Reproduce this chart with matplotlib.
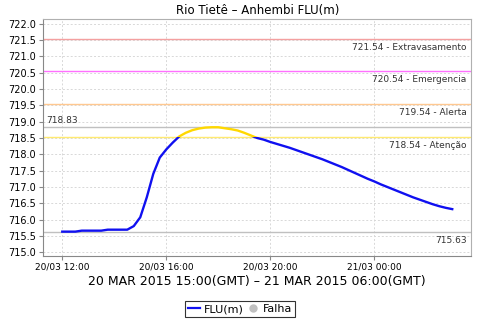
import matplotlib
matplotlib.use("Agg")
import matplotlib.pyplot as plt
import matplotlib.dates as mdates
from matplotlib.patches import Rectangle
from matplotlib.lines import Line2D
import pandas as pd

# 15-minute readings, local time (GMT-3)
times = pd.date_range("2015-03-20 12:00", "2015-03-21 03:00", freq="15min")
flu = [715.63, 715.63, 715.63, 715.66, 715.66, 715.66, 715.66, 715.69, 715.69, 715.69,
       715.69, 715.80, 716.07, 716.68, 717.40, 717.90, 718.15, 718.36, 718.55, 718.66,
       718.74, 718.79, 718.82, 718.83, 718.83, 718.80, 718.77, 718.73, 718.66, 718.58,
       718.50, 718.45, 718.38, 718.32, 718.26, 718.20, 718.13, 718.06, 717.99, 717.92,
       717.85, 717.77, 717.69, 717.61, 717.52, 717.43, 717.34, 717.25, 717.17, 717.08,
       717.00, 716.92, 716.84, 716.76, 716.68, 716.61, 716.54, 716.47, 716.41, 716.36,
       716.32]

levels = [721.54, 720.54, 719.54, 718.54]
level_names = ["Extravasamento", "Emergencia", "Alerta", "Atenção"]
level_colors = ["#F4A0A0", "#FF70FF", "#FFC890", "#FFEA70"]
max_val = 718.83
min_val = 715.63

fig = plt.figure(figsize=(4.8, 3.2), dpi=100)
ax = fig.add_axes([0.090, 0.200, 0.891, 0.741])

t0 = pd.Timestamp("2015-03-20 11:16")
t1 = pd.Timestamp("2015-03-21 03:43")
ax.set_xlim(t0, t1)
ax.set_ylim(714.883, 722.153)

for y, c, n in zip(levels, level_colors, level_names):
    ax.axhline(y, color=c, lw=1.0, zorder=2)
    ax.text(0.99, y - 0.12, "%.2f - %s" % (y, n), transform=ax.get_yaxis_transform(),
            ha="right", va="top", fontsize=6.5, color="#333333")
ax.axhline(max_val, color="#C0C0C0", lw=1.0, zorder=2)
ax.axhline(min_val, color="#C0C0C0", lw=1.0, zorder=2)
ax.text(0.008, max_val + 0.08, "%.2f" % max_val, transform=ax.get_yaxis_transform(),
        ha="left", va="bottom", fontsize=6.5, color="#333333")
ax.text(0.99, min_val - 0.12, "%.2f" % min_val, transform=ax.get_yaxis_transform(),
        ha="right", va="top", fontsize=6.5, color="#333333")

# blue below the attention level, yellow above
xn = mdates.date2num(times)
lo, = ax.plot(times, flu, color="#1010F0", lw=1.7, zorder=3)
hi, = ax.plot(times, flu, color="#FFD800", lw=1.7, zorder=3)
below = Rectangle((xn[0] - 1, 700), 3, levels[3] - 700, transform=ax.transData)
above = Rectangle((xn[0] - 1, levels[3]), 3, 50, transform=ax.transData)
lo.set_clip_path(below)
hi.set_clip_path(above)

ax.set_yticks([715 + 0.5 * i for i in range(15)])
ax.yaxis.set_major_formatter(matplotlib.ticker.FormatStrFormatter("%.1f"))
ax.xaxis.set_major_locator(mdates.HourLocator(byhour=[0, 4, 8, 12, 16, 20]))
ax.xaxis.set_major_formatter(mdates.DateFormatter("%d/%m %H:%M"))
ax.tick_params(labelsize=7, length=3, width=0.8, color="#888888", pad=2)
ax.tick_params(axis="x", labelsize=6.5)
ax.grid(True, color="#D8D8D8", ls=(0, (2, 2)), lw=0.7)
ax.set_axisbelow(True)
for s in ["left", "bottom"]:
    ax.spines[s].set_color("#888888")
for s in ["top", "right"]:
    ax.spines[s].set_color("#B0B0B0")

fig.text(0.536, 0.968, "Rio Tietê – Anhembi FLU(m)", ha="center", va="center", fontsize=8.5)
ax.set_xlabel("20 MAR 2015 15:00(GMT) – 21 MAR 2015 06:00(GMT)", fontsize=9, labelpad=2)

handles = [Line2D([], [], color="#1010F0", lw=1.6),
           Line2D([], [], color="#C0C0C0", marker="o", ls="", markersize=5)]
leg = fig.legend(handles, ["FLU(m)", "Falha"], loc="center", bbox_to_anchor=(0.5, 0.034),
                 ncol=2, fontsize=8, frameon=True, fancybox=False, handlelength=1.1,
                 handletextpad=0.3, columnspacing=0.3, borderpad=0.3, borderaxespad=0)
leg.get_frame().set_edgecolor("black")
leg.get_frame().set_linewidth(0.8)

fig.savefig("out.png", dpi=100)
